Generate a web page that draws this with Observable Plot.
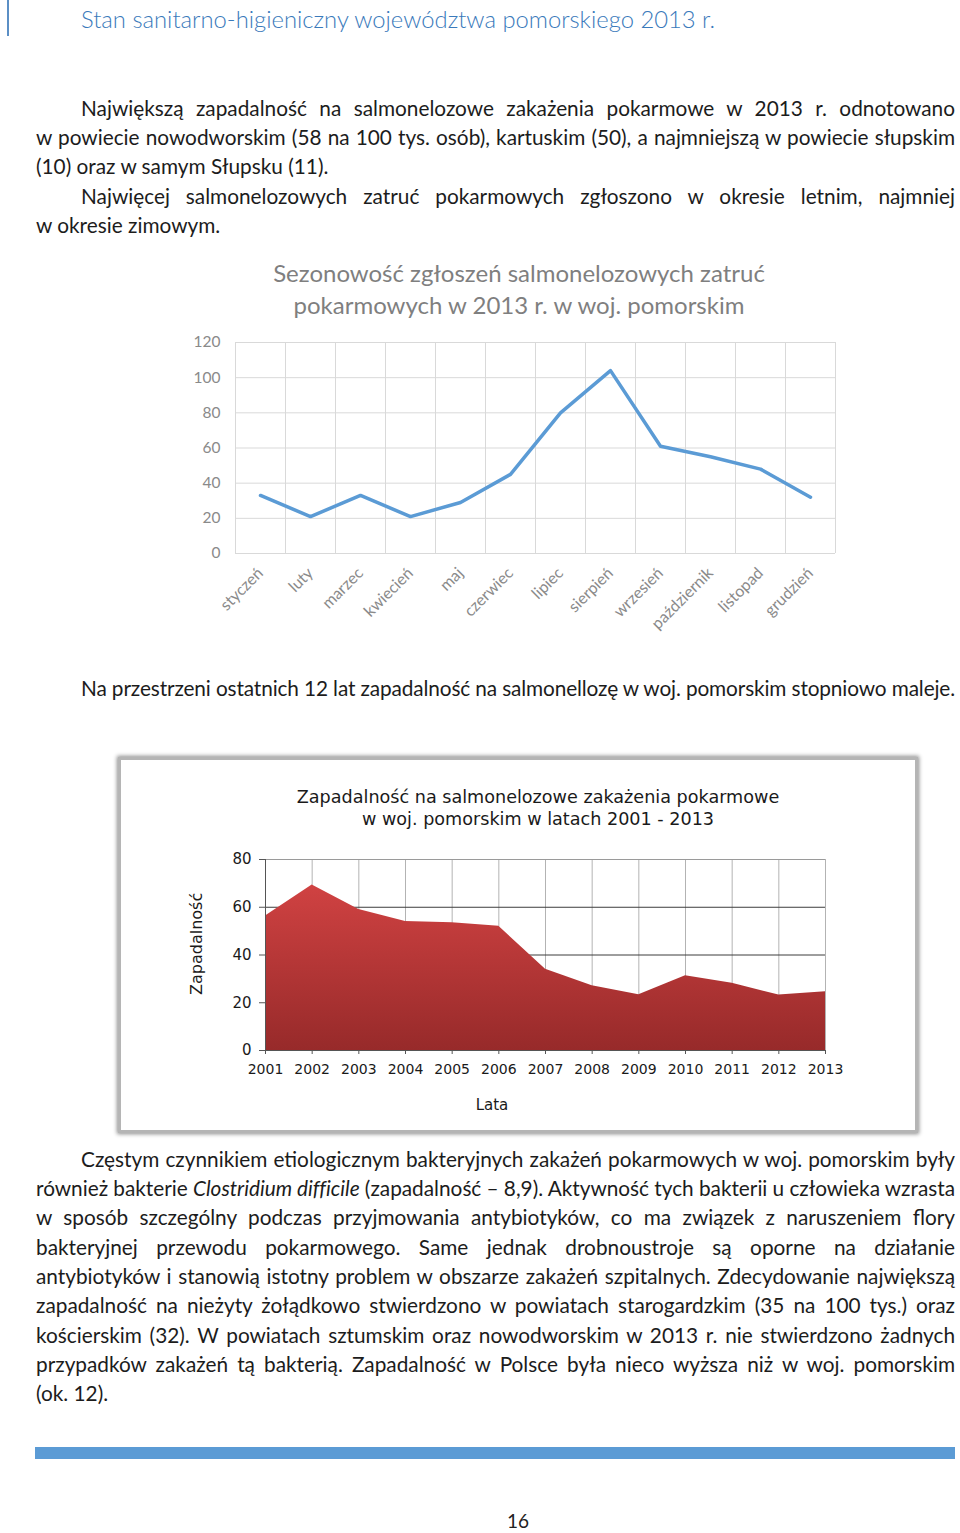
<!DOCTYPE html>
<html><head><meta charset="utf-8">
<script src="https://cdn.jsdelivr.net/npm/d3@7"></script>
<script src="https://cdn.jsdelivr.net/npm/@observablehq/plot@0.6"></script>
<style>
body{margin:0;background:#fff;}
#page{position:relative;width:960px;height:1533px;overflow:hidden;font-family:Lato,"Open Sans",sans-serif;color:#1c1c1c;background:#fff;}
</style></head>
<body><div id="page"></div>
<script>
// ---------- chart data ----------
const months = ["styczeń","luty","marzec","kwiecień","maj","czerwiec","lipiec","sierpień","wrzesień","październik","listopad","grudzień"];
const cases = [33, 21, 33, 21, 29, 45, 80, 104, 61, 55, 48, 32];
const monthTicks = [0, 20, 40, 60, 80, 100, 120];

const years = [2001,2002,2003,2004,2005,2006,2007,2008,2009,2010,2011,2012,2013];
const incidence = [56.3, 69.3, 59.1, 54.0, 53.5, 52.0, 34.0, 27.1, 23.4, 31.3, 28.2, 23.2, 24.6];
const incidenceTicks = [0, 20, 40, 60, 80];

// ---------- page text ----------
const headerText = "Stan sanitarno-higieniczny województwa pomorskiego 2013 r.";
const chart1Title = ["Sezonowość zgłoszeń salmonelozowych zatruć", "pokarmowych w 2013 r. w woj. pomorskim"];
const chart2Title = ["Zapadalność na salmonelozowe zakażenia pokarmowe", "w woj. pomorskim w latach 2001 - 2013"];
// [left, centerY, width, justify, html]
const lines = [
 [81,108,874,true,"Największą zapadalność na salmonelozowe zakażenia pokarmowe w 2013 r. odnotowano"],
 [36,137,919,true,"w powiecie nowodworskim (58 na 100 tys. osób), kartuskim (50), a najmniejszą w powiecie słupskim"],
 [36,166,919,false,"(10) oraz w samym Słupsku (11)."],
 [81,196,874,true,"Najwięcej salmonelozowych zatruć pokarmowych zgłoszono w okresie letnim, najmniej"],
 [36,225,919,false,"w okresie zimowym."],
 [81,688,874,true,"Na przestrzeni ostatnich 12 lat zapadalność na salmonellozę w woj. pomorskim stopniowo maleje."],
 [81,1159,874,true,"Częstym czynnikiem etiologicznym bakteryjnych zakażeń pokarmowych w woj. pomorskim były"],
 [36,1188,919,true,"również bakterie <i>Clostridium difficile</i> (zapadalność – 8,9). Aktywność tych bakterii u człowieka wzrasta"],
 [36,1217,919,true,"w sposób szczególny podczas przyjmowania antybiotyków, co ma związek z naruszeniem flory"],
 [36,1247,919,true,"bakteryjnej przewodu pokarmowego. Same jednak drobnoustroje są oporne na działanie"],
 [36,1276,919,true,"antybiotyków i stanowią istotny problem w obszarze zakażeń szpitalnych. Zdecydowanie największą"],
 [36,1305,919,true,"zapadalność na nieżyty żołądkowo stwierdzono w powiatach starogardzkim (35 na 100 tys.) oraz"],
 [36,1335,919,true,"kościerskim (32). W powiatach sztumskim oraz nowodworskim w 2013 r. nie stwierdzono żadnych"],
 [36,1364,919,true,"przypadków zakażeń tą bakterią. Zapadalność w Polsce była nieco wyższa niż w woj. pomorskim"],
 [36,1393,919,false,"(ok. 12)."]
];

const page = document.getElementById("page");
function el(tag, css, html){ const e=document.createElement(tag); e.style.cssText=css; if(html!==undefined) e.innerHTML=html; page.appendChild(e); return e; }

// header
el("div","position:absolute;left:7px;top:0;width:2px;height:36px;background:#5b8fc5;");
el("div","position:absolute;left:81px;top:4px;font-size:23.8px;font-weight:300;line-height:30px;color:#3a7abb;white-space:nowrap;", headerText);

// body lines
const lineEls = lines.map(([x,y,w,j,html])=>{
  const d = el("div", `position:absolute;left:${x}px;top:${y-15}px;white-space:nowrap;font-size:20.8px;line-height:30px;`);
  const s = document.createElement("span"); s.innerHTML = html; d.appendChild(s);
  return {d, s, w, j, html};
});
function fit(){
  for(const o of lineEls){
    o.s.style.letterSpacing="0px"; o.s.style.wordSpacing="0px";
    let nat = o.s.getBoundingClientRect().width;
    const text = o.s.textContent;
    if(nat > o.w){
      o.s.style.letterSpacing = ((o.w - nat)/text.length) + "px";
      nat = o.s.getBoundingClientRect().width;
    }
    if(o.j){
      const spaces = (text.match(/ /g)||[]).length;
      if(spaces>0) o.s.style.wordSpacing = ((o.w - nat)/spaces) + "px";
    }
  }
}
fit();
if(document.fonts) document.fonts.ready.then(fit);

// chart 1 title
chart1Title.forEach((t,k)=>{
  el("div",`position:absolute;left:219px;width:600px;text-align:center;top:${273+k*32-16}px;font-size:24px;line-height:32px;color:#7f7f7f;white-space:nowrap;`, t);
});

// chart 1
const monthData = months.map((m,i)=>({i, month:m, value:cases[i]}));
const c1 = Plot.plot({
  width:650, height:306, marginLeft:45, marginRight:5, marginTop:10, marginBottom:85,
  x:{domain:[0, months.length], axis:null},
  y:{domain:[0, 120], axis:null},
  style:{fontFamily:"Lato, sans-serif", fontSize:"15px", color:"#8a8a8a", background:"transparent", overflow:"visible"},
  marks:[
    Plot.ruleY(monthTicks, {stroke:"#d9d9d9", strokeWidth:1}),
    Plot.ruleX(d3.range(0, months.length+1), {stroke:"#d9d9d9", strokeWidth:1}),
    Plot.axisY(monthTicks, {tickSize:0, tickPadding:15, fill:"#8a8a8a", fontSize:15.5, label:null}),
    Plot.axisX(monthData.map(d=>d.i+0.5), {tickSize:0, tickPadding:17, tickRotate:-45, tickFormat:v=>months[Math.floor(v)], fill:"#8a8a8a", fontSize:16, label:null}),
    Plot.line(monthData, {x:d=>d.i+0.5, y:"value", stroke:"#5b9bd5", strokeWidth:3.5, strokeLinejoin:"round", strokeLinecap:"round"})
  ]
});
c1.style.position="absolute"; c1.style.left="190px"; c1.style.top="332px";
page.appendChild(c1);

// chart 2 frame
el("div","position:absolute;left:118px;top:757px;width:794px;height:370px;border:3px solid #b5b5b5;box-shadow:0 0 4px 1px rgba(0,0,0,0.45);background:#fff;");
chart2Title.forEach((t,k)=>{
  el("div",`position:absolute;left:238px;width:600px;text-align:center;top:${797+k*22-11}px;font-family:'DejaVu Sans',sans-serif;font-size:17.6px;line-height:22px;color:#1a1a1a;white-space:nowrap;`, t);
});

const yearData = years.map((y,i)=>({year:y, value:incidence[i]}));
const c2 = Plot.plot({
  width:680, height:250, marginLeft:85, marginRight:35, marginTop:19, marginBottom:40,
  x:{domain:[years[0], years[years.length-1]], axis:null},
  y:{domain:[0, 80], axis:null},
  style:{fontFamily:"'DejaVu Sans', sans-serif", fontSize:"14px", color:"#1a1a1a", background:"transparent", overflow:"visible"},
  marks:[
    Plot.ruleX(years, {stroke:"#b3b3b3", strokeWidth:1}),
    Plot.ruleY([20,40,60], {stroke:"#3c3c3c", strokeWidth:1}),
    Plot.ruleY([80], {stroke:"#9a9a9a", strokeWidth:1}),
    Plot.areaY(yearData, {x:"year", y:"value", fill:"url(#redGrad)"}),
    Plot.ruleX([years[0]], {stroke:"#555", strokeWidth:1}),
    Plot.ruleY([0], {stroke:"#555", strokeWidth:1}),
    Plot.axisY(incidenceTicks, {tickSize:6, tickPadding:8, fontSize:15, stroke:"#555", fill:"#1a1a1a", label:null}),
    Plot.axisX(years, {tickSize:4, tickPadding:10, tickFormat:"d", fontSize:14, stroke:"#555", fill:"#1a1a1a", label:null})
  ]
});
const defs = d3.select(c2).insert("defs", ":first-child");
const grad = defs.append("linearGradient").attr("id","redGrad").attr("x1",0).attr("y1",0).attr("x2",0).attr("y2",1);
grad.append("stop").attr("offset","0%").attr("stop-color","#d04242");
grad.append("stop").attr("offset","100%").attr("stop-color","#972a2a");
c2.style.position="absolute"; c2.style.left="180px"; c2.style.top="840px";
page.appendChild(c2);

el("div","position:absolute;left:442px;width:100px;text-align:center;top:1094px;font-family:'DejaVu Sans',sans-serif;font-size:15px;line-height:22px;color:#1a1a1a;", "Lata");
el("div","position:absolute;left:147px;top:934px;width:100px;text-align:center;transform:rotate(-90deg);font-family:'DejaVu Sans',sans-serif;font-size:16px;line-height:22px;color:#1a1a1a;white-space:nowrap;", "Zapadalność");

// footer
el("div","position:absolute;left:35px;top:1447px;width:920px;height:12px;background:#5b9bd5;");
el("div","position:absolute;left:468px;width:100px;text-align:center;top:1510px;font-size:19px;line-height:22px;color:#222;", "16");
</script>
</body></html>
